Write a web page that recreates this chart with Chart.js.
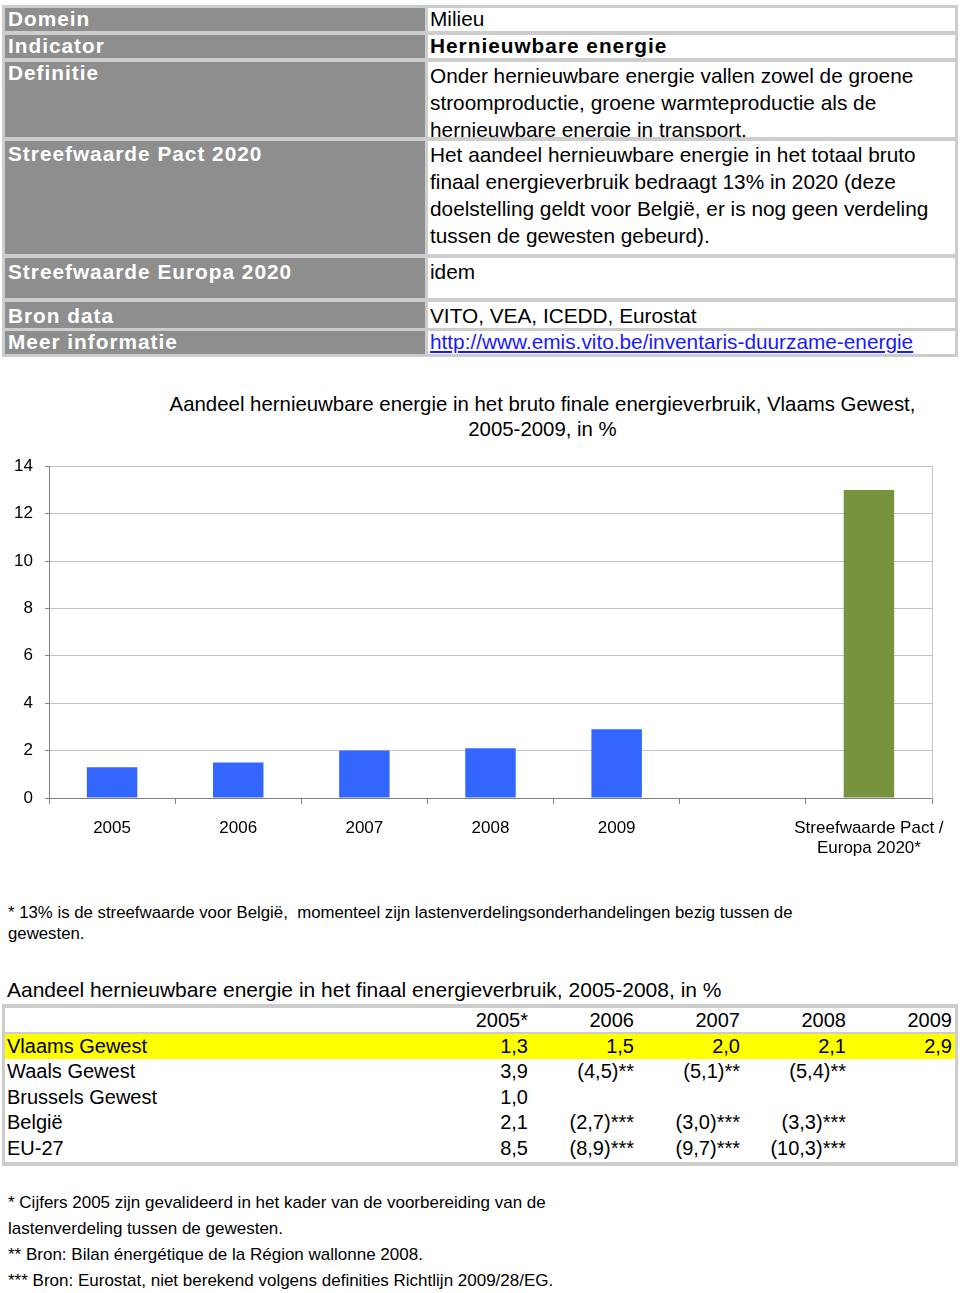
<!DOCTYPE html>
<html>
<head>
<meta charset="utf-8">
<script src="https://cdn.jsdelivr.net/npm/chart.js@4"></script>
<style>
body { margin:0; background:#fff; font-family:Tahoma, "Liberation Sans", Arial, sans-serif; color:#000; }
#page { position:relative; width:960px; height:1293px; overflow:hidden; }
.abs { position:absolute; }
/* bovenste tabel */
#info { left:2px; top:5px; width:956px; height:352px; background:#cdcdcd; }
.lbl { position:absolute; left:3px; width:420px; background:#8e8e8e; color:#fff; font-weight:bold; font-size:20.8px; letter-spacing:1px; line-height:22px; padding-left:3px; box-sizing:border-box; overflow:hidden; white-space:nowrap; }
.val { position:absolute; left:426px; width:527px; background:#fff; font-size:20.8px; line-height:27px; padding-left:2px; box-sizing:border-box; overflow:hidden; }
.val.one { line-height:22px; }
a { color:#1a1aff; }
#chartTitle { left:120px; top:392px; width:845px; text-align:center; font-size:20.4px; line-height:25px; }
#chartBox { left:0; top:444px; width:960px; height:426px; }
.note { font-size:16.8px; line-height:21px; left:8px; }
#tblTitle { left:7px; top:977px; font-size:21px; line-height:26px; }
#tbl { left:2px; top:1004px; width:956px; height:162px; background:#cdcdcd; }
.row { position:absolute; left:3px; width:950px; height:25px; background:#fff; font-size:20px; line-height:25px; }
.row span { position:absolute; top:0; }
.row .n { left:2px; }
.yel { background:#ffff00; }
</style>
</head>
<body>
<div id="page">

<div id="info" class="abs">
  <div class="lbl" style="top:3px;height:23px;">Domein</div>
  <div class="val one" style="top:3px;height:23px;">Milieu</div>
  <div class="lbl" style="top:30px;height:23px;">Indicator</div>
  <div class="val one" style="top:30px;height:23px;font-weight:bold;letter-spacing:1px;">Hernieuwbare energie</div>
  <div class="lbl" style="top:57px;height:75px;">Definitie</div>
  <div class="val" style="top:57px;height:75px;">Onder hernieuwbare energie vallen zowel de groene stroomproductie, groene warmteproductie als de hernieuwbare energie in transport.</div>
  <div class="lbl" style="top:136px;height:113px;padding-top:2px;">Streefwaarde Pact 2020</div>
  <div class="val" style="top:136px;height:113px;">Het aandeel hernieuwbare energie in het totaal bruto finaal energieverbruik bedraagt 13% in 2020 (deze doelstelling geldt voor België, er is nog geen verdeling tussen de gewesten gebeurd).</div>
  <div class="lbl" style="top:253px;height:40px;padding-top:3px;">Streefwaarde Europa 2020</div>
  <div class="val" style="top:253px;height:40px;">idem</div>
  <div class="lbl" style="top:297px;height:26px;padding-top:3px;">Bron data</div>
  <div class="val one" style="top:297px;height:26px;padding-top:3px;">VITO, VEA, ICEDD, Eurostat</div>
  <div class="lbl" style="top:326px;height:23px;">Meer informatie</div>
  <div class="val one" style="top:326px;height:23px;"><a href="#">http://www.emis.vito.be/inventaris-duurzame-energie</a></div>
</div>

<div id="chartTitle" class="abs">Aandeel hernieuwbare energie in het bruto finale energieverbruik, Vlaams Gewest,<br>2005-2009, in %</div>
<div id="chartBox" class="abs"><canvas id="myChart"></canvas></div>

<div class="abs note" style="top:902px;">* 13% is de streefwaarde voor België,&nbsp; momenteel zijn lastenverdelingsonderhandelingen bezig tussen de<br>gewesten.</div>

<div id="tblTitle" class="abs">Aandeel hernieuwbare energie in het finaal energieverbruik, 2005-2008, in %</div>
<div id="tbl" class="abs">
  <div class="row" style="top:4px;height:24px;">
    <span style="right:427px">2005*</span><span style="right:321px">2006</span><span style="right:215px">2007</span><span style="right:109px">2008</span><span style="right:3px">2009</span>
  </div>
  <div class="row yel" style="top:30px;">
    <span class="n">Vlaams Gewest</span><span style="right:427px">1,3</span><span style="right:321px">1,5</span><span style="right:215px">2,0</span><span style="right:109px">2,1</span><span style="right:3px">2,9</span>
  </div>
  <div class="row" style="top:55px;height:103px;"></div>
  <div class="row" style="top:55px;background:none;">
    <span class="n">Waals Gewest</span><span style="right:427px">3,9</span><span style="right:321px">(4,5)**</span><span style="right:215px">(5,1)**</span><span style="right:109px">(5,4)**</span>
  </div>
  <div class="row" style="top:81px;background:none;">
    <span class="n">Brussels Gewest</span><span style="right:427px">1,0</span>
  </div>
  <div class="row" style="top:106px;background:none;">
    <span class="n">België</span><span style="right:427px">2,1</span><span style="right:321px">(2,7)***</span><span style="right:215px">(3,0)***</span><span style="right:109px">(3,3)***</span>
  </div>
  <div class="row" style="top:132px;background:none;">
    <span class="n">EU-27</span><span style="right:427px">8,5</span><span style="right:321px">(8,9)***</span><span style="right:215px">(9,7)***</span><span style="right:109px">(10,3)***</span>
  </div>
</div>

<div class="abs note" style="top:1190px;line-height:26px;font-size:17px;">* Cijfers 2005 zijn gevalideerd in het kader van de voorbereiding van de<br>lastenverdeling tussen de gewesten.<br>** Bron: Bilan énergétique de la Région wallonne 2008.<br>*** Bron: Eurostat, niet berekend volgens definities Richtlijn 2009/28/EG.</div>

</div>

<script>
// categorieen en waarden (aandeel hernieuwbare energie, %)
var categories = ['2005', '2006', '2007', '2008', '2009', '', ['Streefwaarde Pact /', 'Europa 2020*']];
var aandeel = [1.3, 1.5, 2.0, 2.1, 2.9, null, 13];
var yTicks = [0, 2, 4, 6, 8, 10, 12, 14];

var fontFam = 'Tahoma, "Liberation Sans", Arial, sans-serif';

// laatste staaf (streefwaarde) in groen
function barColors() {
    var c = [];
    for (var i = 0; i < aandeel.length; i++) {
        c.push(i === aandeel.length - 1 ? '#77933c' : '#3366ff');
    }
    return c;
}

var ctx = document.getElementById('myChart').getContext('2d');
var chart = new Chart(ctx, {
    type: 'bar',
    data: {
        labels: categories,
        datasets: [{
            data: aandeel,
            backgroundColor: barColors(),
            barPercentage: 0.4,
            categoryPercentage: 1.0
        }]
    },
    options: {
        responsive: true,
        maintainAspectRatio: false,
        animation: false,
        layout: {padding: {top: 10, left: 0, right: 0, bottom: 0}},
        plugins: {legend: {display: false}, tooltip: {enabled: false}},
        scales: {
            x: {
                grid: {offset: true, drawOnChartArea: false, tickLength: 6, color: '#808080'},
                border: {color: '#808080'},
                ticks: {color: '#000', font: {size: 17, family: fontFam}, padding: 14, maxRotation: 0, autoSkip: false},
                afterFit: function (s) { s.height = 72; }
            },
            y: {
                min: yTicks[0],
                max: yTicks[yTicks.length - 1],
                afterBuildTicks: function (s) { s.ticks = yTicks.map(function (v) { return {value: v}; }); },
                grid: {color: '#c4c4c4', tickLength: 4, tickColor: '#808080'},
                border: {color: '#808080'},
                ticks: {color: '#000', font: {size: 17, family: fontFam}, padding: 12},
                afterFit: function (s) { s.width = 49; }
            },
            yR: {
                position: 'right',
                grid: {drawOnChartArea: false, drawTicks: false},
                border: {color: '#c4c4c4'},
                ticks: {display: false},
                afterFit: function (s) { s.width = 28; }
            }
        }
    }
});
</script>
</body>
</html>
